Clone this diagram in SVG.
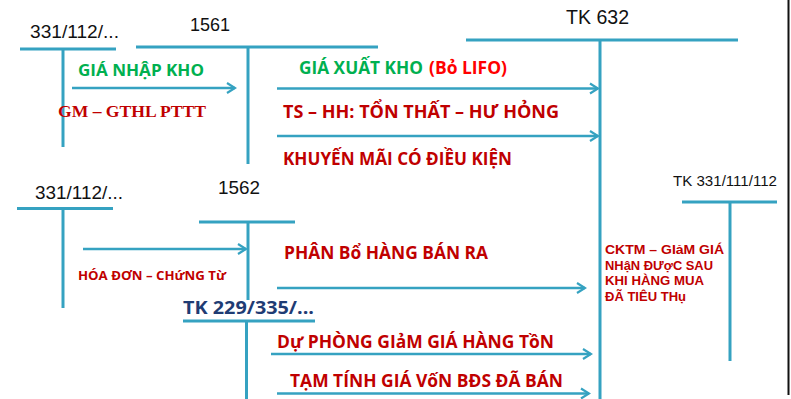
<svg xmlns="http://www.w3.org/2000/svg" width="791" height="399" viewBox="0 0 791 399">
<style>
.ln{stroke:#35A2C1;stroke-width:3;fill:none}
.ar{stroke:#35A2C1;stroke-width:2.5;fill:none;marker-end:url(#ah)}
.acc{font-family:"Liberation Sans",Arial,sans-serif;fill:#111}
.b{font-family:"Open Sans","Noto Sans",sans-serif;font-weight:700}
.bl{font-family:"Liberation Sans",Arial,sans-serif;font-weight:700}
.g{fill:#00B050}
.r{fill:#C00000}
.rr{fill:#FF0000}
.n{fill:#1F3C74}
.s{font-family:"Liberation Serif","Times New Roman",serif;font-weight:700;fill:#C00000}
</style>
<defs>
<marker id="ah" viewBox="-10 -7 12 14" refX="0" refY="0" markerWidth="12" markerHeight="14" markerUnits="userSpaceOnUse" orient="auto">
<path d="M-8,-5 L0,0 L-8,5" fill="none" stroke="#35A2C1" stroke-width="2.2"/>
</marker>
</defs>
<rect x="0" y="0" width="791" height="399" fill="#fff"/>
<line x1="788.5" y1="0" x2="788.5" y2="395" stroke="#111" stroke-width="2"/>

<g id="tk331-top">
<text class="acc" x="30" y="38" font-size="18.5" textLength="89" lengthAdjust="spacingAndGlyphs">331/112/...</text>
<line class="ln" x1="20" y1="49" x2="116" y2="49"/>
<line class="ln" x1="63" y1="49" x2="63" y2="147"/>
</g>
<g id="tk1561">
<text class="acc" x="190" y="30.5" font-size="18.5" textLength="40" lengthAdjust="spacingAndGlyphs">1561</text>
<line class="ln" x1="136" y1="47" x2="378" y2="47"/>
<line class="ln" x1="248" y1="47" x2="248" y2="164"/>
</g>
<g id="tk632">
<text class="acc" x="566" y="24" font-size="19.5" textLength="63" lengthAdjust="spacingAndGlyphs">TK 632</text>
<line class="ln" x1="466" y1="40" x2="738" y2="40"/>
<line class="ln" x1="600" y1="40" x2="600" y2="399"/>
</g>
<g id="tk331-bottom">
<text class="acc" x="35" y="199" font-size="18.5" textLength="88" lengthAdjust="spacingAndGlyphs">331/112/...</text>
<line class="ln" x1="17" y1="208.5" x2="113" y2="208.5"/>
<line class="ln" x1="63" y1="208.5" x2="63" y2="308"/>
</g>
<g id="tk1562">
<text class="acc" x="218" y="194" font-size="18.5" textLength="42" lengthAdjust="spacingAndGlyphs">1562</text>
<line class="ln" x1="199" y1="222" x2="295" y2="222"/>
<line class="ln" x1="248" y1="222" x2="248" y2="300"/>
</g>
<g id="tk229">
<text class="b n" x="183" y="314" font-size="17.5" textLength="131" lengthAdjust="spacingAndGlyphs">TK 229/335/...</text>
<line class="ln" x1="183" y1="321" x2="315" y2="321"/>
<line class="ln" x1="246.5" y1="321" x2="246.5" y2="399"/>
</g>
<g id="tk331-111-112">
<text class="acc" x="673" y="186" font-size="14.6" textLength="104" lengthAdjust="spacingAndGlyphs">TK 331/111/112</text>
<line class="ln" x1="682" y1="202" x2="777" y2="202"/>
<line class="ln" x1="730" y1="202" x2="730" y2="361"/>
</g>

<g id="connectors">
<line class="ar" x1="72" y1="88" x2="235" y2="88"/>
<line class="ar" x1="277" y1="88.5" x2="598" y2="88.5"/>
<line class="ar" x1="277" y1="136" x2="598" y2="136"/>
<line class="ar" x1="83" y1="249" x2="246" y2="249"/>
<line class="ar" x1="277" y1="288" x2="585" y2="288"/>
<line class="ar" x1="271" y1="354" x2="591" y2="354"/>
<line class="ar" x1="277" y1="393.5" x2="589" y2="393.5"/>
</g>

<g id="labels">
<text class="b g" x="78" y="76" font-size="16.5" textLength="126" lengthAdjust="spacingAndGlyphs">GIÁ NHẬP KHO</text>
<text class="s" x="58" y="117" font-size="17.5" textLength="148" lengthAdjust="spacingAndGlyphs">GM – GTHL PTTT</text>
<text class="b g" x="299" y="73.5" font-size="17.5" textLength="124" lengthAdjust="spacingAndGlyphs">GIÁ XUẤT KHO</text>
<text class="b rr" x="429" y="73.5" font-size="17.5" textLength="78" lengthAdjust="spacingAndGlyphs">(Bỏ LIFO)</text>
<text class="b r" x="283" y="118" font-size="18.5" textLength="276" lengthAdjust="spacingAndGlyphs">TS – HH: TỔN THẤT – HƯ HỎNG</text>
<text class="b r" x="283" y="165" font-size="17.5" textLength="229" lengthAdjust="spacingAndGlyphs">KHUYẾN MÃI CÓ ĐIỀU KIỆN</text>
<text class="b r" x="78" y="279.5" font-size="12" textLength="148" lengthAdjust="spacingAndGlyphs">HÓA ĐƠN – CHứNG Từ</text>
<text class="b r" x="284" y="259" font-size="17" textLength="204" lengthAdjust="spacingAndGlyphs">PHÂN Bổ HÀNG BÁN RA</text>
<text class="b r" x="277" y="348" font-size="17.5" textLength="277" lengthAdjust="spacingAndGlyphs">Dự PHÒNG GIảM GIÁ HÀNG TồN</text>
<text class="b r" x="290" y="387" font-size="17.5" textLength="273" lengthAdjust="spacingAndGlyphs">TẠM TÍNH GIÁ VốN BĐS ĐÃ BÁN</text>
<text class="bl r" x="605" y="254" font-size="13.4" textLength="119" lengthAdjust="spacingAndGlyphs">CKTM – GIảM GIÁ</text>
<text class="bl r" x="605" y="269.5" font-size="13.4" textLength="108" lengthAdjust="spacingAndGlyphs">NHậN ĐƯợC SAU</text>
<text class="bl r" x="605" y="285" font-size="13.4" textLength="99" lengthAdjust="spacingAndGlyphs">KHI HÀNG MUA</text>
<text class="bl r" x="605" y="300.5" font-size="13.4" textLength="81" lengthAdjust="spacingAndGlyphs">ĐÃ TIÊU THụ</text>
</g>
</svg>
